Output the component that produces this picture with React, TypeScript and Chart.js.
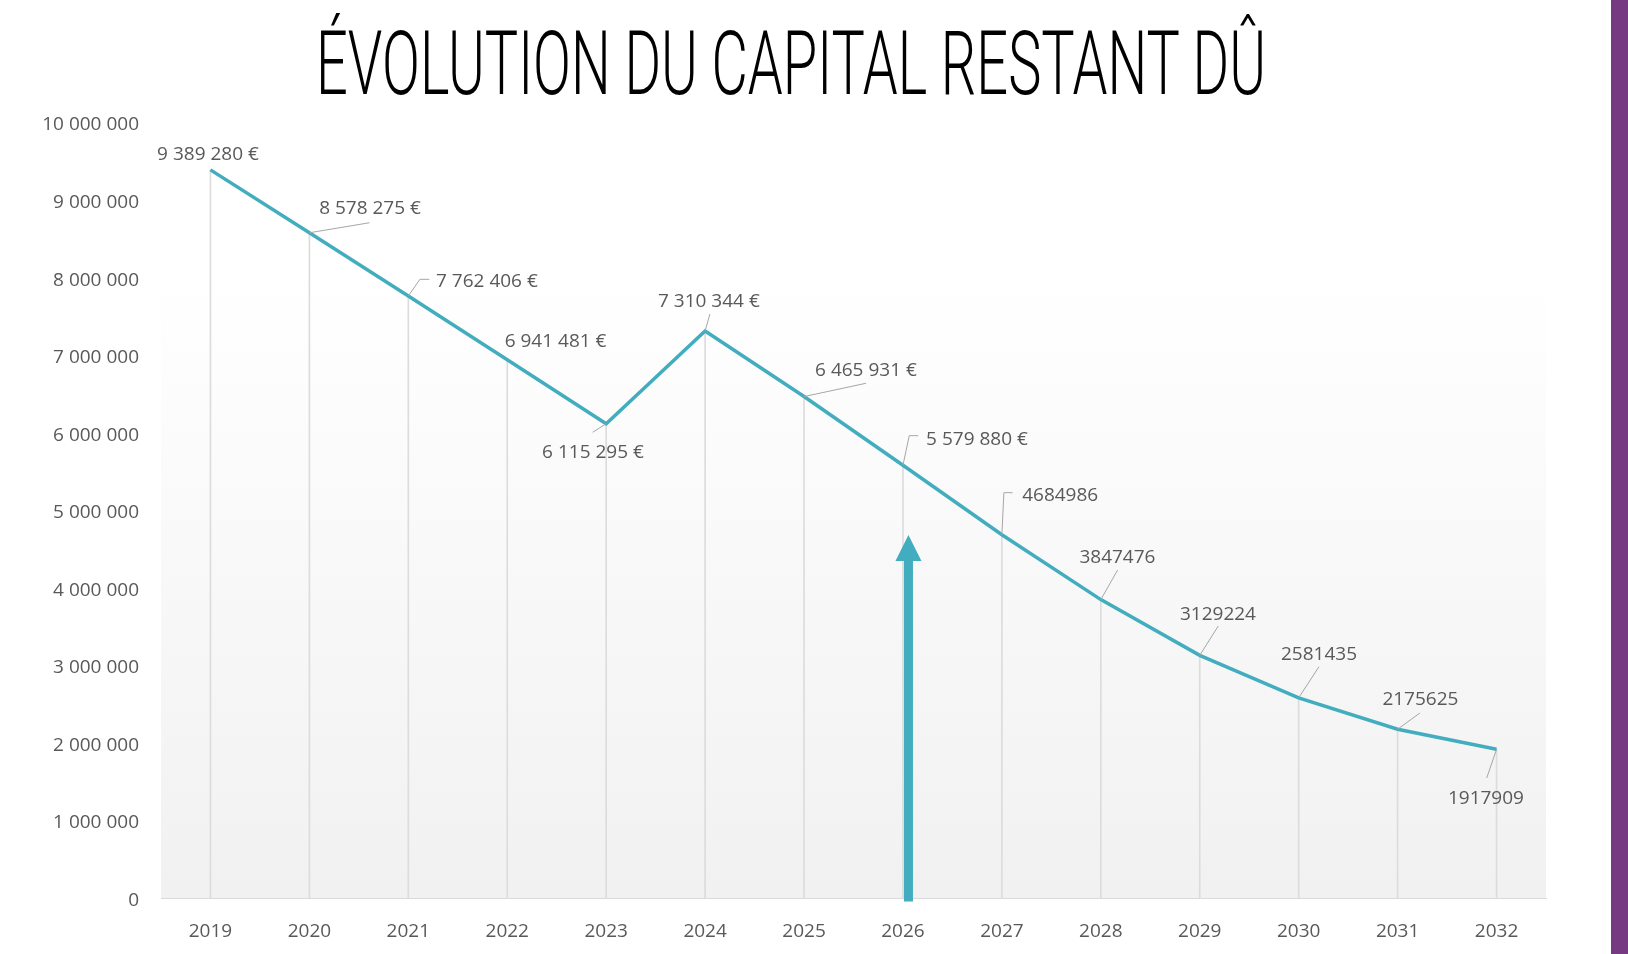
import React, { useEffect, useRef } from "react";
import { Chart, registerables } from "chart.js";

Chart.register(...registerables);

// ---- data ----
const years = ["2019", "2020", "2021", "2022", "2023", "2024", "2025", "2026", "2027", "2028", "2029", "2030", "2031", "2032"];
const capitalRestantDu = [9389280, 8578275, 7762406, 6941481, 6115295, 7310344, 6465931, 5579880, 4684986, 3847476, 3129224, 2581435, 2175625, 1917909];
const labelWithEuro = [true, true, true, true, true, true, true, true, false, false, false, false, false, false];
const yMin = 0;
const yMax = 10000000;
const yStep = 1000000;
const arrowYearIndex = 7;
const arrowTipValue = 4680000;
const titleText = "ÉVOLUTION DU CAPITAL RESTANT DÛ";

// ---- label layout (pixel offsets relative to each point) ----
const labelOffsets: [number, number][] = [
  [-2.5, -16.5], [60.6, -26], [78.6, -15.5], [48.3, -19.7], [-13.2, 27.9], [3.8, -31], [61.9, -27.6],
  [74, -27.3], [58.3, -40.7], [16.6, -43.6], [18.2, -42.3], [20.3, -45], [22.8, -31.3], [-10.6, 48.4],
];
const leaderPaths: [number, number][][] = [
  [], [[0, 0], [60, -10]], [[0, 0], [11.6, -16.7], [20.9, -16.7]], [], [[0, 0], [-13.5, 8.5]],
  [[0, 0], [4.8, -17]], [[0, 0], [62, -13.3]], [[0, 0], [6.3, -29.6], [15.3, -29.6]],
  [[0, 0], [2, -42], [10.7, -42]], [[0, 0], [16.8, -29.6]], [[0, 0], [18.5, -29.3]],
  [[0, 0], [20.3, -31.1]], [[0, 0], [22.3, -16.3]], [[0, 0], [-9.8, 28.7]],
];

const TEAL = "#42adbe";
const TEXT = "#595959";
const FONT = "'Open Sans', 'DejaVu Sans', sans-serif";

function spaced(v: number) {
  return String(v).replace(/\B(?=(\d{3})+(?!\d))/g, " ");
}
function pointLabel(i: number) {
  return labelWithEuro[i] ? spaced(capitalRestantDu[i]) + " €" : String(capitalRestantDu[i]);
}

const backgroundPlugin = {
  id: "plotBg",
  beforeDraw(chart: any) {
    const { ctx, chartArea } = chart;
    const g = ctx.createLinearGradient(0, chartArea.top, 0, chartArea.bottom);
    g.addColorStop(0, "#ffffff");
    g.addColorStop(0.2, "#ffffff");
    g.addColorStop(1, "#f1f1f1");
    ctx.save();
    ctx.fillStyle = g;
    ctx.fillRect(chartArea.left, chartArea.top, chartArea.right - chartArea.left, chartArea.bottom - chartArea.top);
    ctx.restore();
  },
};

const labelsPlugin = {
  id: "pointLabels",
  afterDatasetsDraw(chart: any) {
    const ctx = chart.ctx;
    const meta = chart.getDatasetMeta(1);
    ctx.save();
    meta.data.forEach((pt: any, i: number) => {
      const px = pt.x;
      const py = pt.y;
      const path = leaderPaths[i];
      if (path.length > 1) {
        ctx.beginPath();
        ctx.strokeStyle = "#a6a6a6";
        ctx.lineWidth = 1;
        path.forEach(([dx, dy], k) => {
          if (k === 0) ctx.moveTo(px + dx, py + dy);
          else ctx.lineTo(px + dx, py + dy);
        });
        ctx.stroke();
      }
      const [ox, oy] = labelOffsets[i];
      ctx.font = `19px ${FONT}`;
      ctx.fillStyle = TEXT;
      ctx.textAlign = "center";
      ctx.textBaseline = "alphabetic";
      ctx.fillText(pointLabel(i), px + ox, py + oy + 6.8);
    });
    ctx.restore();
  },
};

const arrowPlugin = {
  id: "arrow",
  afterDatasetsDraw(chart: any) {
    const ctx = chart.ctx;
    const xs = chart.scales.x;
    const ys = chart.scales.y;
    const cx = xs.getPixelForValue(arrowYearIndex) + 5.5;
    const tip = ys.getPixelForValue(arrowTipValue);
    const bottom = ys.getPixelForValue(0) + 3.5;
    const headH = 26;
    const headW = 26;
    const shaftW = 9;
    ctx.save();
    ctx.fillStyle = TEAL;
    ctx.fillRect(cx - shaftW / 2, tip + headH - 1, shaftW, bottom - (tip + headH - 1));
    ctx.beginPath();
    ctx.moveTo(cx, tip);
    ctx.lineTo(cx + headW / 2, tip + headH);
    ctx.lineTo(cx - headW / 2, tip + headH);
    ctx.closePath();
    ctx.fill();
    ctx.restore();
  },
};

export default function App() {
  const canvasRef = useRef<HTMLCanvasElement | null>(null);
  const titleRef = useRef<HTMLDivElement | null>(null);

  useEffect(() => {
    const fit = () => {
      const el = titleRef.current;
      if (!el) return;
      el.style.transform = "none";
      const w = el.getBoundingClientRect().width;
      if (w > 0) el.style.transform = `scaleX(${950 / w})`;
    };
    fit();
    (document as any).fonts?.ready?.then(fit);
  }, []);

  useEffect(() => {
    if (!canvasRef.current) return;
    const chart = new Chart(canvasRef.current, {
      data: {
        labels: years,
        datasets: [
          {
            type: "bar",
            data: capitalRestantDu,
            backgroundColor: "#dcdcdc",
            barThickness: 1,
            order: 2,
          } as any,
          {
            type: "line",
            data: capitalRestantDu,
            borderColor: TEAL,
            borderWidth: 3.5,
            pointRadius: 0,
            tension: 0,
            borderJoinStyle: "miter",
            order: 1,
          } as any,
        ],
      },
      options: {
        responsive: false,
        animation: false,
        devicePixelRatio: 1,
        layout: { padding: { top: 122.5, right: 82, bottom: 0, left: 0 } },
        plugins: { legend: { display: false }, tooltip: { enabled: false }, title: { display: false } },
        scales: {
          x: {
            offset: true,
            grid: { display: false, drawTicks: false },
            border: { display: true, color: "#d9d9d9", width: 1 },
            ticks: { color: TEXT, font: { family: FONT, size: 19 }, padding: 22, maxRotation: 0 },
            afterFit(scale: any) {
              scale.height = 56;
            },
          },
          y: {
            min: yMin,
            max: yMax,
            grid: { display: false, drawTicks: false },
            border: { display: false },
            ticks: {
              stepSize: yStep,
              color: TEXT,
              font: { family: FONT, size: 19 },
              padding: 22,
              labelOffset: 2.5,
              callback: (v: any) => spaced(Number(v)),
            },
            afterFit(scale: any) {
              scale.width = 161;
            },
          },
        },
      } as any,
      plugins: [backgroundPlugin, labelsPlugin, arrowPlugin],
    });
    return () => chart.destroy();
  }, []);

  return (
    <div style={{ position: "fixed", left: 0, top: 0, width: 1628, height: 954, background: "#fff", overflow: "hidden" }}>
      <canvas ref={canvasRef} width={1628} height={954} style={{ position: "absolute", left: 0, top: 0, width: 1628, height: 954 }} />
      <div
        ref={titleRef}
        style={{
          position: "absolute",
          left: 316,
          top: 19,
          fontFamily: "Roboto, 'DejaVu Sans', sans-serif",
          fontWeight: 300,
          fontSize: 89.5,
          lineHeight: 1,
          whiteSpace: "nowrap",
          transformOrigin: "0 0",
          color: "#000",
          display: "inline-block",
        }}
      >
        {titleText}
      </div>
      <div style={{ position: "absolute", left: 1611, top: 0, width: 17, height: 954, background: "#763a82" }} />
    </div>
  );
}
